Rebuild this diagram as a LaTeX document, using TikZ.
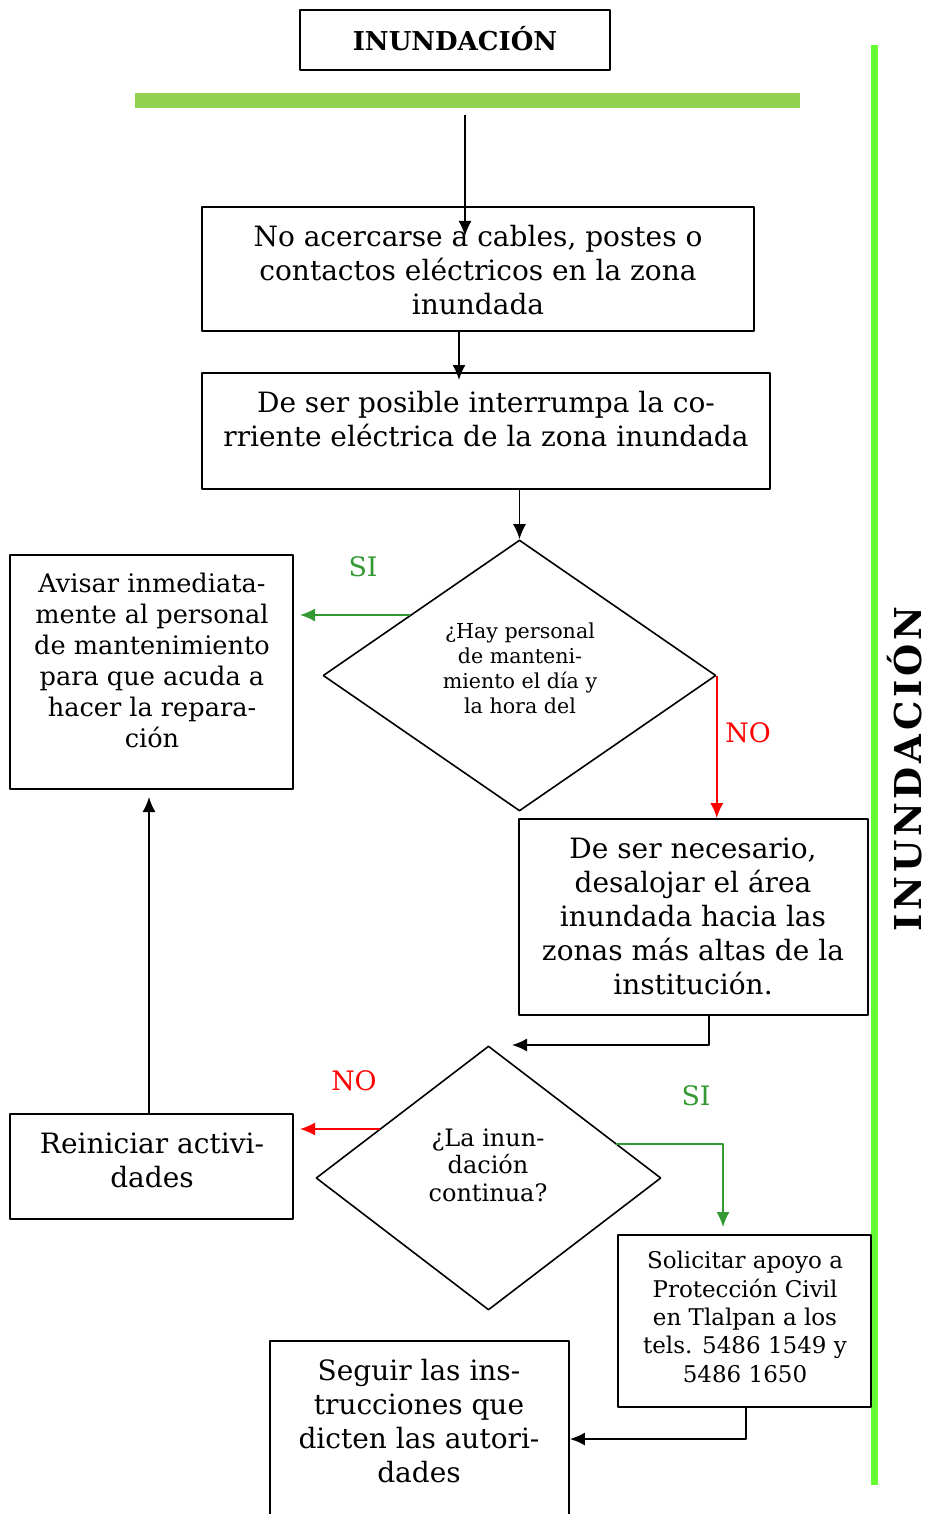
\documentclass[tikz,border=0pt]{standalone}
\usepackage{fontspec}
\setmainfont{DejaVu Serif}
\usetikzlibrary{arrows.meta,shapes.geometric,fit}
\definecolor{barraverde}{RGB}{146,208,80}
\definecolor{lineaverde}{RGB}{102,255,51}
\definecolor{siverde}{RGB}{51,153,51}
\tikzset{
  caja/.style={draw,line width=0.9pt,inner sep=0pt},
  rombo/.style={diamond,draw,line width=0.8pt,inner sep=0pt},
  texto/.style={align=center,inner sep=0pt,font=\fontsize{14}{17}\selectfont},
  etiqueta/.style={inner sep=0pt,font=\fontsize{13.4}{15}\selectfont},
}
\begin{document}
\begin{tikzpicture}[x=0.5pt,y=-0.5pt,>={Latex[length=7.5pt,width=6.5pt]},line join=bevel,line width=0.8pt]
\useasboundingbox (0,0) rectangle (930,1514);
%%
 \node (node_titulo) [fit={(300,10) (610,70)},caja] {};
 \node (node_titulo_txt) at (455,39) [inner sep=0pt,font=\fontsize{13}{16}\selectfont\bfseries] {INUNDACIÓN};
 \node (node_barra) [fit={(135,93) (800,108)},fill=barraverde,inner sep=0pt] {};
 \node (node_linea) [fit={(871,45) (878,1485)},fill=lineaverde,inner sep=0pt] {};
 \node (node_lateral) at (905,769) [rotate=90,inner sep=0pt,font=\fontsize{18.5}{20}\selectfont\bfseries\addfontfeature{LetterSpace=10}] {INUNDACIÓN};
%
 \node (node_cables) [fit={(202,207) (754,331)},caja] {};
 \node (node_cables_txt) at (478,270) [texto] {No acercarse a cables, postes o\\contactos eléctricos en la zona\\inundada};
 \node (node_corriente) [fit={(202,373) (770,489)},caja] {};
 \node (node_corriente_txt) at (486,419) [texto] {De ser posible interrumpa la co-\\rriente eléctrica de la zona inundada};
 \node (node_pregunta1) at (519.5,675.5) [rombo,minimum width=196.5pt,minimum height=135.5pt] {};
 \node (node_pregunta1_txt) at (520,668) [texto,font=\fontsize{10.3}{12.5}\selectfont] {¿Hay personal\\de manteni-\\miento el día y\\la hora del};
 \node (node_avisar) [fit={(10,555) (293,789)},caja] {};
 \node (node_avisar_txt) at (152,660) [texto,font=\fontsize{12.8}{15.5}\selectfont] {Avisar inmediata-\\mente al personal\\de mantenimiento\\para que acuda a\\hacer la repara-\\ción};
 \node (node_desalojar) [fit={(519,819) (868,1015)},caja] {};
 \node (node_desalojar_txt) at (693,916) [texto] {De ser necesario,\\desalojar el área\\inundada hacia las\\zonas más altas de la\\institución.};
 \node (node_pregunta2) at (488.5,1178) [rombo,minimum width=172.5pt,minimum height=132pt] {};
 \node (node_pregunta2_txt) at (488,1165) [texto,font=\fontsize{12}{13.7}\selectfont] {¿La inun-\\dación\\continua?};
 \node (node_reiniciar) [fit={(10,1114) (293,1219)},caja] {};
 \node (node_reiniciar_txt) at (152,1160) [texto] {Reiniciar activi-\\dades};
 \node (node_solicitar) [fit={(618,1235) (871,1407)},caja] {};
 \node (node_solicitar_txt) at (745,1317) [texto,font=\fontsize{11.5}{14.2}\selectfont] {Solicitar apoyo a\\Protección Civil\\en Tlalpan a los\\tels. 5486 1549 y\\5486 1650};
 \node (node_seguir) [fit={(270,1341) (569,1540)},caja] {};
 \node (node_seguir_txt) at (419,1421) [texto] {Seguir las ins-\\trucciones que\\dicten las autori-\\dades};
%
 \node (node_si1) at (363,567) [etiqueta,text=siverde] {SI};
 \node (node_no1) at (748,733) [etiqueta,text=red] {NO};
 \node (node_no2) at (354,1081) [etiqueta,text=red] {NO};
 \node (node_si2) at (696,1096) [etiqueta,text=siverde] {SI};
%
 \coordinate (c_0a) at (465,115);
 \coordinate (c_0b) at (465,236);
 \coordinate (c_1) at (459,380);
 \coordinate (c_si1a) at (410,615);
 \coordinate (c_si1b) at (300,615);
 \coordinate (c_2a) at (709,1045);
 \coordinate (c_2b) at (512,1045);
 \coordinate (c_no2a) at (380,1129);
 \coordinate (c_no2b) at (300,1129);
 \coordinate (c_si2a) at (616,1144);
 \coordinate (c_si2b) at (723,1227);
 \coordinate (c_3) at (746,1439);
 \coordinate (c_4) at (149,797);
%
  \draw [black,->] (c_0a) -- (c_0b);
  \draw [black,->] (c_1 |- node_cables.south) -- (c_1);
  \draw [black,->] (node_corriente.south -| node_pregunta1.north) -- (node_pregunta1.north);
  \draw [siverde,->] (c_si1a) -- (c_si1b);
  \draw [red,->] (node_pregunta1.east) -- (node_pregunta1.east |- node_desalojar.north);
  \draw [black,->] (c_2a |- node_desalojar.south) -- (c_2a) -- (c_2b);
  \draw [red,->] (c_no2a) -- (c_no2b);
  \draw [siverde,->] (c_si2a) -| (c_si2b);
  \draw [black,->] (c_3 |- node_solicitar.south) -- (c_3) -- (c_3 -| node_seguir.east);
  \draw [black,->] (c_4 |- node_reiniciar.north) -- (c_4);
%
\end{tikzpicture}
\end{document}
